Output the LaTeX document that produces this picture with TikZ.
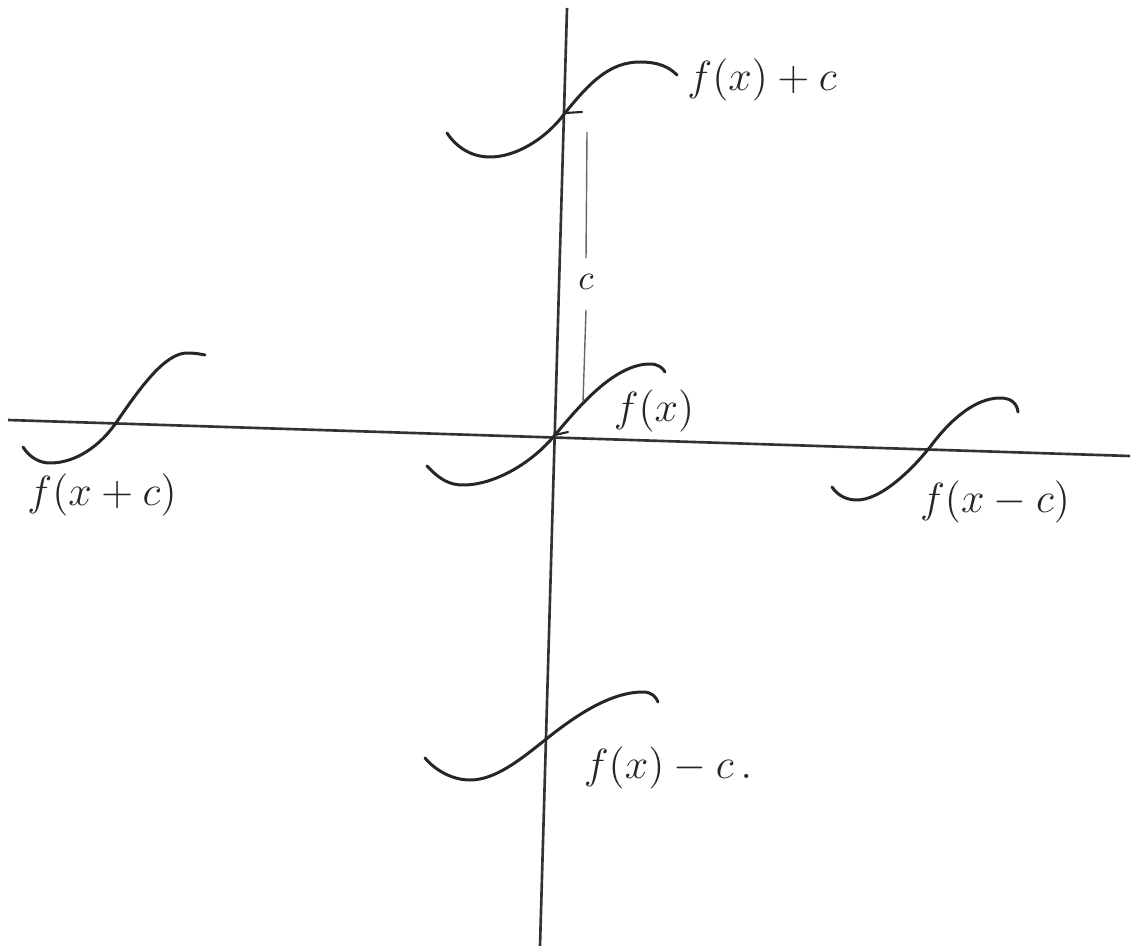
\documentclass[tikz,border=0pt]{standalone}
\begin{document}
\begin{tikzpicture}[x=0.01cm,y=-0.01cm,
  ink/.style={draw=black!85,line width=0.85pt,line cap=round,line join=round},
  axis/.style={draw=black!80,line width=0.75pt},
  thin/.style={draw=black!60,line width=0.4pt},
  lbl/.style={font=\fontsize{12}{14}\selectfont,text=black!85,inner sep=0pt}]
\useasboundingbox (0,0) rectangle (1137,946);
% axes
\coordinate (vt) at (567,8);
\coordinate (vb) at (540,946);
\coordinate (hl) at (8,420);
\coordinate (hr) at (1130,456);
\draw[axis] (vt) -- (vb);
\draw[axis] (hl) -- (hr);
% curves
\draw[ink] (427,466) .. controls (440,480) and (450,485) .. (463,485)
  .. controls (493,485) and (530,465) .. (555,435)
  .. controls (580,405) and (615,364) .. (650,364)
  .. controls (658,364) and (663,368) .. (665,372);
\draw[ink] (447,133) .. controls (457,148) and (472,157) .. (490,157)
  .. controls (515,157) and (545,140) .. (565,113)
  .. controls (590,82) and (610,62) .. (640,62)
  .. controls (660,62) and (670,68) .. (677,75);
\draw[ink] (23,447) .. controls (30,458) and (40,463) .. (50,463)
  .. controls (75,463) and (100,447) .. (118,420)
  .. controls (140,388) and (165,353) .. (187,353)
  .. controls (195,353) and (200,354) .. (205,355);
\draw[ink] (832,487) .. controls (838,496) and (847,500) .. (857,500)
  .. controls (880,500) and (910,472) .. (930,447)
  .. controls (950,420) and (975,398) .. (1000,398)
  .. controls (1012,398) and (1017,404) .. (1018,412);
\draw[ink] (425,758) .. controls (435,770) and (452,780) .. (470,780)
  .. controls (495,780) and (520,760) .. (545,740)
  .. controls (575,716) and (610,692) .. (643,692)
  .. controls (652,692) and (656,697) .. (658,702);
% small tick marks at crossings
\draw[ink,line width=0.6pt] (565,113) -- (582,112);
\draw[ink,line width=0.6pt] (555,435) -- (568,432);
% distance c
\node[lbl,font=\fontsize{10}{12}\selectfont] (c) at (586,282) {$c$};
\coordinate (ct) at (587,132);
\coordinate (cb) at (583,402);
\draw[thin] (ct) -- (c.north |- 0,258);
\draw[thin] (c.south |- 0,310) -- (cb);
% labels
\node[lbl] (l1) at (762,80) {$f(x)+c$};
\node[lbl] (l2) at (654,411) {$f(x)$};
\node[lbl,font=\fontsize{13}{15}\selectfont] (l3) at (102,495) {$f(x+c)$};
\node[lbl,font=\fontsize{13}{15}\selectfont] (l4) at (995,502) {$f(x-c)$};
\node[lbl] (l5) at (668,768) {$f(x)-c\,.$};
\end{tikzpicture}
\end{document}
